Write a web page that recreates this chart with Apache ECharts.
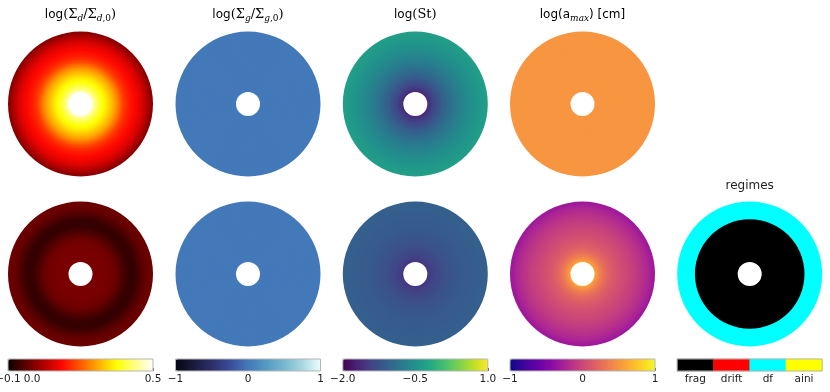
<!DOCTYPE html>
<html><head><meta charset="utf-8">
<script src="https://cdn.jsdelivr.net/npm/echarts@6/dist/echarts.min.js"></script>
<style>html,body{margin:0;padding:0;background:#fff}#c{width:830px;height:392px}</style>
</head><body><div id="c"></div>
<script>
// ---- radial profiles (32 rings from inner hole edge to outer edge) ----
const sigmaDustTop = [0.455,0.435,0.41,0.39,0.372,0.357,0.345,0.333,0.32,0.305,0.29,0.275,0.258,0.24,0.22,0.20,0.18,0.167,0.155,0.145,0.137,0.13,0.122,0.115,0.107,0.098,0.088,0.076,0.062,0.047,0.032,0.015];
const sigmaDustBottom = [0.0,0.0,0.0,0.0,-0.001,-0.002,-0.002,-0.003,-0.004,-0.005,-0.007,-0.01,-0.014,-0.02,-0.027,-0.035,-0.043,-0.05,-0.056,-0.06,-0.062,-0.062,-0.06,-0.055,-0.048,-0.04,-0.032,-0.025,-0.02,-0.016,-0.014,-0.013];
const sigmaGasTop = [0,0,0,0,0,0,0,0,0,0,0,0,0,0,0,0,0,0,0,0,0,0,0,0,0,0,0,0,0,0,0,0];
const sigmaGasBottom = [0,0,0,0,0,0,0,0,0,0,0,0,0,0,0,0,0,0,0,0,0,0,0,0,0,0,0,0,0,0,0,0];
const stokesTop = [-1.64,-1.56,-1.48,-1.41,-1.35,-1.28,-1.22,-1.16,-1.10,-1.05,-1.00,-0.95,-0.91,-0.86,-0.82,-0.78,-0.74,-0.71,-0.67,-0.64,-0.61,-0.58,-0.55,-0.52,-0.50,-0.47,-0.45,-0.42,-0.40,-0.38,-0.36,-0.34];
const stokesBottom = [-1.52,-1.48,-1.44,-1.41,-1.38,-1.35,-1.33,-1.31,-1.29,-1.27,-1.25,-1.24,-1.22,-1.21,-1.20,-1.19,-1.18,-1.17,-1.16,-1.15,-1.15,-1.14,-1.13,-1.13,-1.12,-1.12,-1.11,-1.11,-1.10,-1.10,-1.10,-1.09];
const amaxTop = [0.5,0.5,0.5,0.5,0.5,0.5,0.5,0.5,0.5,0.5,0.5,0.5,0.5,0.5,0.5,0.5,0.5,0.5,0.5,0.5,0.5,0.5,0.5,0.5,0.5,0.5,0.5,0.5,0.5,0.5,0.5,0.5];
const amaxBottom = [0.58,0.50,0.43,0.37,0.32,0.27,0.23,0.20,0.17,0.145,0.12,0.10,0.08,0.065,0.05,0.03,0.015,0.0,-0.02,-0.035,-0.05,-0.07,-0.09,-0.11,-0.13,-0.15,-0.17,-0.20,-0.22,-0.25,-0.28,-0.31];
const regimeBottom = [0,0,0,0,0,0,0,0,0,0,0,0,0,0,0,0,0,0,0,0,0,0,0,2,2,2,2,2,2,2,2,2];
const regimeNames = ['frag','drift','df','aini'];
const regimeCodes = [0,1,2,3];

// ---- colorbar ranges / ticks ----
const cbRanges = [[-0.1,0.5],[-1,1],[-2,1],[-1,1]];
const cbTicks = [[-0.1,0.0,0.5],[-1,0,1],[-2.0,-0.5,1.0],[-1,0,1]];
const cbLabels = [['−0.1','0.0','0.5'],['−1','0','1'],['−2.0','−0.5','1.0'],['−1','0','1']];

// ---- layout / style ----
const colX = [80.5, 248, 415.3, 582.5, 749.7];
const rowY = [104, 274];
const R_OUT = 72.5, R_IN = 12;
const CB_TOP = 359, CB_H = 12, CB_W = 145;
const hot = ['#0b0000','#5e0000','#b20000','#ff0700','#ff5a00','#ffae00','#ffff04','#ffff82','#ffffff'];
const ice = ['#040613','#1a1b3b','#2c2f69','#3a4b9a','#4379b9','#5599c4','#77b9d0','#a8d8e0','#eafdfd'];
const viridis = ['#440154','#482475','#414487','#355f8d','#2a788e','#21918c','#22a884','#44bf70','#7ad151','#bddf26','#fde725'];
const plasma = ['#0d0887','#41049d','#6a00a8','#8f0da4','#b12a90','#cc4778','#e16462','#f2844b','#fca636','#fcce25','#f0f921'];
const cmaps = [hot, ice, viridis, plasma];

const rings = sigmaDustTop.map((_, i) => String(i));
const panels = [
  {col:0,row:0,vals:sigmaDustTop},{col:0,row:1,vals:sigmaDustBottom},
  {col:1,row:0,vals:sigmaGasTop},{col:1,row:1,vals:sigmaGasBottom},
  {col:2,row:0,vals:stokesTop},{col:2,row:1,vals:stokesBottom},
  {col:3,row:0,vals:amaxTop},{col:3,row:1,vals:amaxBottom},
  {col:4,row:1,vals:regimeBottom}
];

function renderRing(params, api) {
  const cs = params.coordSys;
  const p = api.coord([api.value(0), api.value(1)]);
  const rad = Math.hypot(p[0] - cs.cx, p[1] - cs.cy);
  const band = api.size([1, 0])[0];
  const pad = 0.7;
  return {type:'sector', silent:true,
    shape:{cx:cs.cx, cy:cs.cy, r0:Math.max(cs.r0, rad - band/2 - pad), r:Math.min(cs.r, rad + band/2 + pad),
      startAngle:0, endAngle:Math.PI*2, clockwise:true},
    style:{fill: api.visual('color'), stroke:null}};
}

const polar = [], angleAxis = [], radiusAxis = [], series = [];
panels.forEach((p, k) => {
  polar.push({center:[colX[p.col], rowY[p.row]], radius:[R_IN, R_OUT]});
  angleAxis.push({polarIndex:k, type:'value', min:0, max:1, startAngle:90, show:false,
    axisLine:{show:false}, axisTick:{show:false}, axisLabel:{show:false}, splitLine:{show:false}});
  radiusAxis.push({polarIndex:k, type:'category', data:rings, show:false,
    axisLine:{show:false}, axisTick:{show:false}, axisLabel:{show:false}, splitLine:{show:false}});
  series.push({type:'custom', coordinateSystem:'polar', polarIndex:k, silent:true,
    encode:{radius:0, angle:1}, renderItem: renderRing,
    data: p.vals.map((v, i) => [i, 0, v])});
});

const grid = [], xAxis = [], yAxis = [], visualMap = [];
for (let c = 0; c < 5; c++) {
  grid.push({left: colX[c] - CB_W/2, top: CB_TOP, width: CB_W, height: CB_H, containLabel:false, outerBoundsMode:'none',
    show:true, borderColor:'#b5b5b5', borderWidth:1, backgroundColor:'transparent', z:10});
}
for (let c = 0; c < 4; c++) {
  const ticks = cbTicks[c], labels = cbLabels[c];
  xAxis.push({gridIndex:c, type:'value', min:cbRanges[c][0], max:cbRanges[c][1], position:'bottom',
    axisLine:{show:false}, splitLine:{show:false},
    axisTick:{show:true, inside:true, length:3, lineStyle:{color:'#555'}, customValues:ticks},
    axisLabel:{customValues:ticks, hideOverlap:false, margin:3, fontSize:10.5, color:'#222', fontFamily:'DejaVu Sans',
      formatter: v => { const i = ticks.findIndex(t => Math.abs(t - v) < 1e-9); return i >= 0 ? labels[i] : ''; }}});
  yAxis.push({gridIndex:c, type:'value', show:false});
  visualMap.push({type:'continuous', min:cbRanges[c][0], max:cbRanges[c][1], seriesIndex:[2*c, 2*c+1],
    dimension:2, orient:'horizontal', left: colX[c] - CB_W/2, top: CB_TOP, itemWidth: CB_H, itemHeight: CB_W,
    padding:0, calculable:false, hoverLink:false, inRange:{color: cmaps[c]}, textStyle:{fontSize:0}});
}
xAxis.push({gridIndex:4, type:'category', data:regimeNames, position:'bottom',
  axisLine:{show:false}, splitLine:{show:false},
  axisTick:{show:true, inside:true, length:3, alignWithLabel:true, lineStyle:{color:'#555'}},
  axisLabel:{margin:3, fontSize:10.5, color:'#222', fontFamily:'DejaVu Sans'}});
yAxis.push({gridIndex:4, type:'category', data:[''], show:false});
series.push({type:'heatmap', xAxisIndex:4, yAxisIndex:4, silent:true,
  data: regimeCodes.map((v, i) => [i, 0, v])});
visualMap.push({type:'piecewise', show:false, seriesIndex:[8, 9], dimension:2,
  pieces:[{value:0,color:'#000000'},{value:1,color:'#ff0000'},{value:2,color:'#00ffff'},{value:3,color:'#ffff00'}]});

const rich = {
  s:{fontFamily:'DejaVu Sans', fontSize:12, color:'#222', lineHeight:16},
  m:{fontFamily:'DejaVu Serif', fontSize:13, color:'#222', lineHeight:16},
  i:{fontFamily:'DejaVu Serif', fontStyle:'italic', fontSize:9, color:'#222', lineHeight:9, verticalAlign:'bottom'},
  u:{fontFamily:'DejaVu Serif', fontSize:9, color:'#222', lineHeight:9, verticalAlign:'bottom'}
};
const titles = [
  '{s|log}{m|(Σ}{i|d}{m|/Σ}{i|d}{u|,0}{m|)}',
  '{s|log}{m|(Σ}{i|g}{m|/Σ}{i|g}{u|,0}{m|)}',
  '{s|log}{m|(St)}',
  '{s|log(a}{i|max}{s|) [cm]}'
];
const graphic = titles.map((t, c) => ({type:'text', x: colX[c], y: 15, silent:true,
  style:{text:t, rich, align:'center', verticalAlign:'middle'}}));
graphic.push({type:'text', x: colX[4], y: 186, silent:true,
  style:{text:'regimes', fontFamily:'DejaVu Sans', fontSize:12, fill:'#222', align:'center', verticalAlign:'middle'}});

const chart = echarts.init(document.getElementById('c'), null, {renderer:'canvas'});
chart.setOption({animation:false, backgroundColor:'#fff', polar, angleAxis, radiusAxis, grid, xAxis, yAxis, visualMap, series, graphic});
</script></body></html>
